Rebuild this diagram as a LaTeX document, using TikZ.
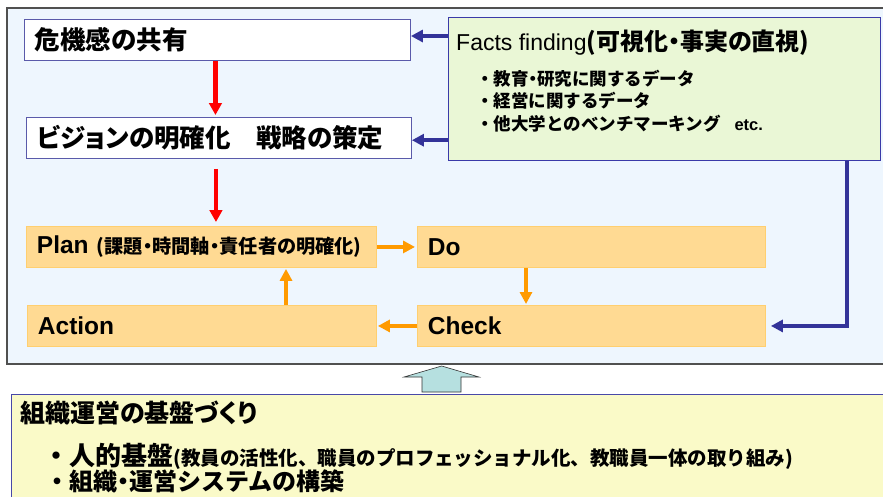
\documentclass[tikz,border=0pt]{standalone}
\usepackage{fontspec}
\setmainfont{Liberation Sans}
\newfontfamily\jp{Noto Sans CJK JP}[RawFeature={+palt}]
\newfontfamily\jpf{Noto Sans CJK JP}
\usetikzlibrary{arrows.meta,calc}
\definecolor{framefill}{HTML}{EEF6FE}
\definecolor{frameline}{HTML}{505050}
\definecolor{boxline}{HTML}{5A5AAA}
\definecolor{factsfill}{HTML}{EAF7D6}
\definecolor{factsline}{HTML}{3A3AA8}
\definecolor{pdcafill}{HTML}{FFDA93}
\definecolor{pdcaline}{HTML}{FFCF70}
\definecolor{arred}{HTML}{FF0000}
\definecolor{arblue}{HTML}{333399}
\definecolor{arorange}{HTML}{FF9A00}
\definecolor{basefill}{HTML}{FAFAC8}
\definecolor{baseline}{HTML}{4848A8}
\definecolor{hollowfill}{HTML}{B6E0E0}
\newcommand\md{{\jp ・}}
\tikzset{
  whitebox/.style={draw=boxline, line width=0.9pt, fill=white, anchor=north west,
    inner xsep=10.5pt, inner ysep=0pt, align=left,
    font=\jp\bfseries\fontsize{25.5}{25.5}\selectfont},
  pdcabox/.style={draw=pdcaline, line width=0.9pt, fill=pdcafill, anchor=north west,
    inner xsep=10.5pt, inner ysep=0pt, align=left,
    font=\bfseries\fontsize{24.5}{24.5}\selectfont},
  txt/.style={anchor=west, inner sep=0pt},
  redarr/.style={draw=arred, line width=4.3pt, -{Triangle[length=12pt,width=12.5pt]}},
  bluearr/.style={draw=arblue, line width=3.6pt, -{Triangle[length=12pt,width=12pt]}},
  orangearr/.style={draw=arorange, line width=3.8pt, -{Triangle[length=12pt,width=12pt]}},
}
\begin{document}
\begin{tikzpicture}[x=1pt,y=-1pt]
\clip (0,0) rectangle (883,496);
\fill[white] (0,0) rectangle (883,496);
% outer frame
\node[draw=frameline, line width=1.5pt, fill=framefill, anchor=north west,
  minimum width=889pt, minimum height=356pt, inner sep=0pt] (frame) at (6,7) {};
% top boxes
\node[whitebox, minimum width=386pt, text width=365pt, minimum height=41pt] (box1) at (24,19) {危機感の共有};
\node[whitebox, minimum width=385pt, text width=364pt, minimum height=41pt] (box2) at (26,117) {ビジョンの明確化　戦略の策定};
% facts box
\node[draw=factsline, line width=1.2pt, fill=factsfill, anchor=north west,
  minimum width=432pt, minimum height=143pt, inner sep=0pt] (facts) at (448,17) {};
\node[txt, font=\fontsize{23}{23}\selectfont] (fh) at (456,43)
  {Facts finding{\jp\bfseries\fontsize{24}{24}\selectfont (可視化・事実の直視)}};
\node[txt, font=\jpf\bfseries\fontsize{17.5}{17.5}\selectfont] (b1) at (476,79) {・教育\md 研究に関するデータ};
\node[txt, font=\jpf\bfseries\fontsize{17.5}{17.5}\selectfont] (b2) at (476,101) {・経営に関するデータ};
\node[txt, font=\jpf\bfseries\fontsize{17.5}{17.5}\selectfont] (b3) at (476,124)
  {・他大学とのベンチマーキング\hspace{14pt}{\rmfamily\bfseries\fontsize{16.5}{16.5}\selectfont etc.}};
% PDCA boxes
\node[pdcabox, minimum width=350pt, text width=329pt, minimum height=41pt] (plan) at (26,226)
  {Plan {\jp\bfseries\fontsize{19.2}{19.2}\selectfont (課題・時間軸・責任者の明確化)}};
\node[pdcabox, minimum width=348pt, text width=327pt, minimum height=41pt] (do) at (417,226) {Do};
\node[pdcabox, minimum width=349pt, text width=328pt, minimum height=41pt] (action) at (27,305) {Action};
\node[pdcabox, minimum width=348pt, text width=327pt, minimum height=41pt] (check) at (417,305) {Check};
% red arrows
\draw[redarr, shorten >=2pt] ([xshift=-2pt]box1.south) -- ([xshift=-2pt]box1.south |- box2.north);
\draw[redarr, shorten <=10pt, shorten >=4pt] ([xshift=-3pt]box2.south) -- ([xshift=-3pt]box2.south |- plan.north);
% blue arrows
\coordinate (f1) at ([yshift=-19pt]facts.north west);
\coordinate (f2) at ([yshift=21pt]facts.south west);
\coordinate (f3) at ([xshift=-34pt]facts.south east);
\draw[bluearr] (f1) -- (f1 -| box1.east);
\draw[bluearr] (f2) -- (f2 -| box2.east);
\draw[bluearr, shorten >=5pt] (f3) |- (check.east);
% orange arrows
\draw[orangearr, shorten >=2pt] (plan.east) -- (plan.east -| do.west);
\draw[orangearr, shorten >=1pt] ([xshift=109pt]do.south west) -- ([xshift=109pt]do.south west |- check.north);
\draw[orangearr, shorten >=1pt] (check.west) -- (check.west -| action.east);
\draw[orangearr, shorten >=1pt] ([xshift=259pt]action.north west) -- ([xshift=259pt]action.north west |- plan.south);
% base box
\node[draw=baseline, line width=1.2pt, fill=basefill, anchor=north west,
  minimum width=884pt, minimum height=111pt, inner sep=0pt] (base) at (11,394) {};
\node[txt, font=\jp\bfseries\fontsize{25}{25}\selectfont] (l1) at (20,413) {組織運営の基盤づくり};
\node[txt, font=\jpf\bfseries\fontsize{26}{26}\selectfont] (l2) at (43,456)
  {・人的基盤{\fontsize{19.5}{19.5}\selectfont (教員の活性化、職員のプロフェッショナル化、教職員一体の取り組み)}};
\node[txt, font=\jpf\bfseries\fontsize{24}{24}\selectfont] (l3) at (45,481) {・組織\md 運営システムの構築};
% hollow up arrow
\draw[fill=hollowfill, draw=black!80, line width=0.6pt]
  (441.7,366) -- (479,377) -- (461,377) -- (461,392) -- (422,392) -- (422,377) -- (404,377) -- cycle;
\end{tikzpicture}
\end{document}
